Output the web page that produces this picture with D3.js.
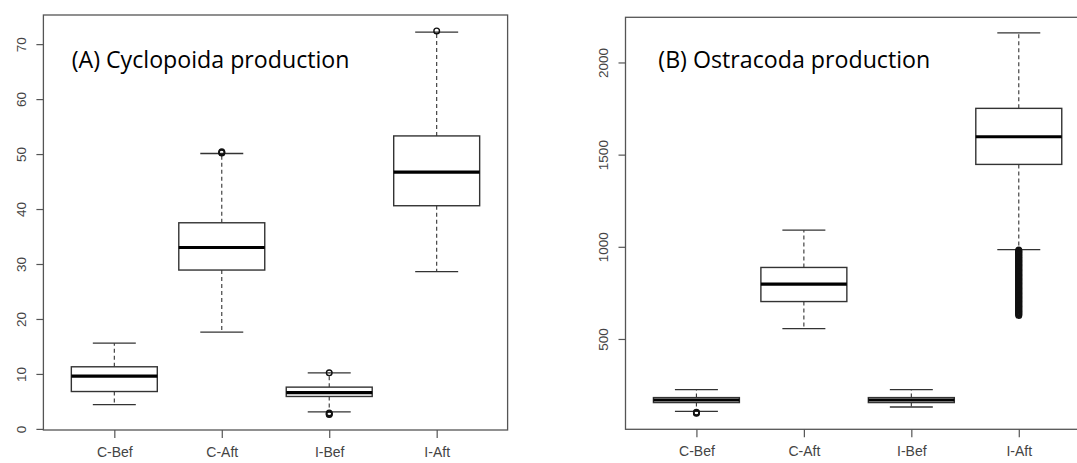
<!DOCTYPE html>
<html>
<head>
<meta charset="utf-8">
<script src="https://cdn.jsdelivr.net/npm/d3@7"></script>
<style>
  body { margin: 0; background: #fff; }
  svg { display: block; }
</style>
</head>
<body>
<div class="chart"></div>
<script>
// groups on the x axis
var categories = ["C-Bef", "C-Aft", "I-Bef", "I-Aft"];

// (A) Cyclopoida production : whisker ends, hinges, medians
var cycLow  = [4.4, 17.6, 3.1, 28.6];
var cycQ1   = [6.8, 28.9, 5.9, 40.6];
var cycMed  = [9.6, 33.0, 6.6, 46.7];
var cycQ3   = [11.3, 37.5, 7.6, 53.3];
var cycHigh = [15.6, 50.1, 10.2, 72.2];
var cycOut  = [[], [50.2, 50.3, 50.4], [10.2, 2.9, 2.7, 2.6], [72.4]];
var cycTicks = [0, 10, 20, 30, 40, 50, 60, 70];

// (B) Ostracoda production
var ostLow  = [107, 556, 131, 985];
var ostQ1   = [155, 703, 155, 1447];
var ostMed  = [169, 797, 169, 1597];
var ostQ3   = [182, 888, 182, 1751];
var ostHigh = [225, 1090, 225, 2160];
// I-Aft low outliers pile up into a solid bar between ~630 and ~982
var ostOut  = [[97, 100, 103], [], [],
  [628, 633, 637, 642, 646, 651, 655, 660, 664, 669, 673, 678, 682, 687, 691,
   696, 700, 705, 709, 714, 718, 723, 727, 732, 736, 741, 745, 750, 754, 759,
   763, 768, 772, 777, 781, 786, 790, 795, 799, 804, 808, 813, 817, 822, 826,
   831, 835, 840, 844, 849, 853, 858, 862, 867, 871, 876, 880, 885, 889, 894,
   898, 903, 907, 912, 916, 921, 925, 930, 934, 939, 943, 948, 952, 957, 961,
   966, 970, 975, 979, 982]];
var ostTicks = [500, 1000, 1500, 2000];

var svgWidth = 1077, svgHeight = 463;

var svg = d3.select(".chart")
  .append("svg")
    .attr("width", svgWidth)
    .attr("height", svgHeight);

drawPanel({
  left: 43.4, right: 507.6, top: 15, bottom: 430,
  yDomain: [-0.2, 75.3], ticks: cycTicks,
  low: cycLow, q1: cycQ1, med: cycMed, q3: cycQ3, high: cycHigh, out: cycOut,
  title: "(A) Cyclopoida production", titleX: 71.7, titleW: 278
});

drawPanel({
  left: 625.5, right: 1089.7, top: 17.3, bottom: 429.3,
  yDomain: [10, 2245], ticks: ostTicks,
  low: ostLow, q1: ostQ1, med: ostMed, q3: ostQ3, high: ostHigh, out: ostOut,
  title: "(B) Ostracoda production", titleX: 658.3, titleW: 272
});

function drawPanel(p) {
  var g = svg.append("g");

  // R style: x runs 0.5..4.5 plus 4% each side
  var x = d3.scaleLinear()
    .domain([0.34, 4.66])
    .range([p.left, p.right]);

  var y = d3.scaleLinear()
    .domain(p.yDomain)
    .range([p.bottom, p.top]);

  var data = categories.map(function(c, i) {
    return {name: c, pos: i + 1, low: p.low[i], q1: p.q1[i], med: p.med[i],
            q3: p.q3[i], high: p.high[i], out: p.out[i]};
  });

  var boxHalf = (x(1.4) - x(1)) ;
  var stapleHalf = (x(1.2) - x(1));

  var boxes = g.selectAll(".box")
    .data(data)
    .enter()
    .append("g")
      .classed("box", true);

  // dashed whiskers
  boxes.append("line")
    .attr("x1", function(d){ return x(d.pos); })
    .attr("x2", function(d){ return x(d.pos); })
    .attr("y1", function(d){ return y(d.q3); })
    .attr("y2", function(d){ return y(d.high); })
    .attr("stroke", "#333")
    .attr("stroke-width", 1.1)
    .attr("stroke-dasharray", "4,3");
  boxes.append("line")
    .attr("x1", function(d){ return x(d.pos); })
    .attr("x2", function(d){ return x(d.pos); })
    .attr("y1", function(d){ return y(d.q1); })
    .attr("y2", function(d){ return y(d.low); })
    .attr("stroke", "#333")
    .attr("stroke-width", 1.1)
    .attr("stroke-dasharray", "4,3");

  // staples
  boxes.selectAll(".staple")
    .data(function(d){ return [{pos: d.pos, v: d.high}, {pos: d.pos, v: d.low}]; })
    .enter()
    .append("line")
      .attr("x1", function(d){ return x(d.pos) - stapleHalf; })
      .attr("x2", function(d){ return x(d.pos) + stapleHalf; })
      .attr("y1", function(d){ return y(d.v); })
      .attr("y2", function(d){ return y(d.v); })
      .attr("stroke", "#333")
      .attr("stroke-width", 1.3);

  // boxes
  boxes.append("rect")
    .attr("x", function(d){ return x(d.pos) - boxHalf; })
    .attr("width", boxHalf * 2)
    .attr("y", function(d){ return y(d.q3); })
    .attr("height", function(d){ return y(d.q1) - y(d.q3); })
    .attr("fill", "#fff")
    .attr("stroke", "#333")
    .attr("stroke-width", 1.4);

  // medians
  boxes.append("line")
    .attr("x1", function(d){ return x(d.pos) - boxHalf; })
    .attr("x2", function(d){ return x(d.pos) + boxHalf; })
    .attr("y1", function(d){ return y(d.med); })
    .attr("y2", function(d){ return y(d.med); })
    .attr("stroke", "#000")
    .attr("stroke-width", 3.2);

  // outliers
  boxes.selectAll(".out")
    .data(function(d){ return d.out.map(function(v){ return {pos: d.pos, v: v}; }); })
    .enter()
    .append("circle")
      .attr("cx", function(d){ return x(d.pos); })
      .attr("cy", function(d){ return y(d.v); })
      .attr("r", 2.8)
      .attr("fill", "none")
      .attr("stroke", "#111")
      .attr("stroke-width", 1.4);

  // frame
  g.append("rect")
    .attr("x", p.left)
    .attr("y", p.top)
    .attr("width", p.right - p.left)
    .attr("height", p.bottom - p.top)
    .attr("fill", "none")
    .attr("stroke", "#555")
    .attr("stroke-width", 1.3);

  // y axis, labels turned like R's las = 0
  var yAxis = g.append("g")
    .attr("transform", "translate(" + p.left + ",0)")
    .call(d3.axisLeft(y).tickValues(p.ticks).tickSize(7).tickFormat(d3.format("d")));
  yAxis.select(".domain").remove();
  yAxis.selectAll("line").attr("stroke", "#555").attr("stroke-width", 1.2);
  yAxis.selectAll("text")
    .attr("x", 0).attr("dy", null)
    .attr("transform", function(){ return "translate(-22,0) rotate(-90)"; })
    .attr("text-anchor", "middle")
    .attr("dominant-baseline", "central")
    .attr("fill", "#444")
    .style("font-family", "'Liberation Sans', Arial, sans-serif")
    .style("font-size", "13.5px");

  // x axis (the labels sit on the very bottom edge of the picture)
  var xAxis = g.append("g")
    .attr("transform", "translate(0," + p.bottom + ")")
    .call(d3.axisBottom(x).tickValues([1, 2, 3, 4]).tickSize(8)
      .tickFormat(function(d){ return categories[d - 1]; }));
  xAxis.select(".domain").remove();
  xAxis.selectAll("line").attr("stroke", "#555").attr("stroke-width", 1.2);
  xAxis.selectAll("text")
    .attr("y", 17).attr("dy", "0.71em")
    .attr("fill", "#444")
    .style("font-family", "'Liberation Sans', Arial, sans-serif")
    .style("font-size", "14px");

  // panel title, fitted to the width it has in the picture
  var t = g.append("text")
    .attr("x", p.titleX)
    .attr("y", 68.3)
    .attr("fill", "#000")
    .style("font-family", "'Open Sans', sans-serif")
    .style("font-size", "22px")
    .text(p.title);
  var len = t.node().getComputedTextLength();
  t.style("font-size", (22 * p.titleW / len) + "px");
}
</script>
</body>
</html>
